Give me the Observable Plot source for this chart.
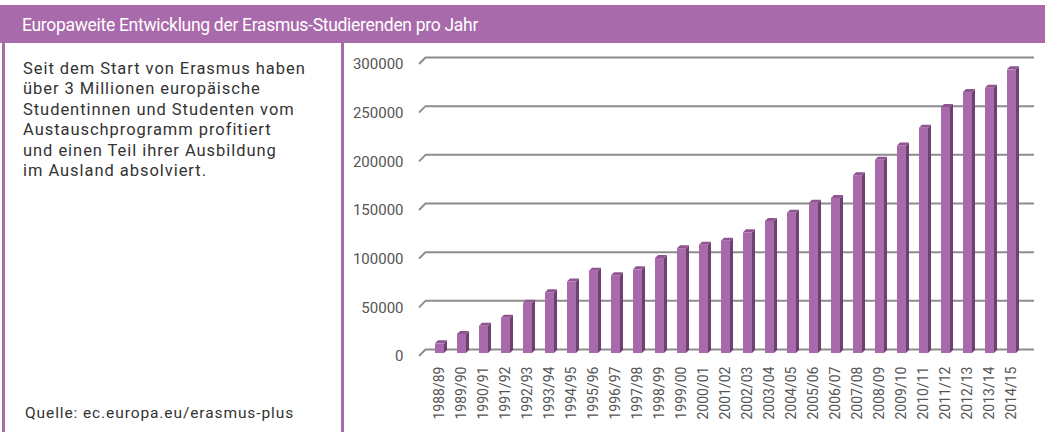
<!DOCTYPE html>
<html><head><meta charset="utf-8">
<script src="https://cdn.jsdelivr.net/npm/d3@7"></script>
<script src="https://cdn.jsdelivr.net/npm/@observablehq/plot@0.6"></script>
<style>
html,body{margin:0;padding:0;background:#fff;width:1045px;height:432px;overflow:hidden;font-family:Roboto, sans-serif;}
#header{position:absolute;left:0;top:5px;width:1045px;height:38px;background:#a96aab;color:#fff;font-size:17.5px;line-height:41px;padding-left:22px;box-sizing:border-box;white-space:nowrap;letter-spacing:-0.3px;}
#panel{position:absolute;left:2px;top:43px;width:342px;height:389px;border-left:3px solid #a96aab;border-right:3px solid #a96aab;box-sizing:border-box;}
#intro{position:absolute;left:23px;top:59px;font-size:16.5px;line-height:20.4px;color:#333;white-space:nowrap;letter-spacing:0.95px;}
#source{position:absolute;left:25px;top:404px;font-size:15.5px;color:#333;white-space:nowrap;letter-spacing:0.9px;}
#chart{position:absolute;left:345px;top:43px;}
</style></head>
<body>
<div id="header">Europaweite Entwicklung der Erasmus-Studierenden pro Jahr</div>
<div id="panel"></div>
<div id="intro">Seit dem Start von Erasmus haben<br>über 3 Millionen europäische<br>Studentinnen und Studenten vom<br>Austauschprogramm profitiert<br>und einen Teil ihrer Ausbildung<br>im Ausland absolviert.</div>
<div id="source">Quelle: ec.europa.eu/erasmus-plus</div>
<div id="chart"></div>
<script>
const years = ["1988/89","1989/90","1990/91","1991/92","1992/93","1993/94","1994/95","1995/96","1996/97","1997/98","1998/99","1999/00","2000/01","2001/02","2002/03","2003/04","2004/05","2005/06","2006/07","2007/08","2008/09","2009/10","2010/11","2011/12","2012/13","2013/14","2014/15"];
const students = [9900, 19500, 27900, 36300, 51700, 62400, 73400, 84600, 79900, 86000, 97600, 107700, 111100, 115400, 124000, 135600, 144000, 154400, 159300, 182700, 198500, 213300, 231400, 252800, 268100, 272500, 291400];
const yTicks = [0, 50000, 100000, 150000, 200000, 250000, 300000];

const data = years.map((year, i) => ({year, value: students[i]}));

const depth = 3, lift = 4;

function gridDiagonals(index, scales, values, dims) {
  const g = d3.create("svg:g");
  const x0 = dims.marginLeft;
  for (const v of yTicks) {
    const yy = scales.y(v);
    g.append("line").attr("x1", x0 - 7).attr("y1", yy + 7).attr("x2", x0).attr("y2", yy)
      .attr("stroke", "#8c8c8c").attr("stroke-width", 2);
  }
  return g.node();
}

function sides3d(index, scales, values, dims) {
  const g = d3.create("svg:g");
  const x = scales.x, y = scales.y;
  const bw = typeof x.bandwidth === "function" ? x.bandwidth() : x.bandwidth;
  const yb = y(0) + lift;
  for (const d of data) {
    const xl = x(d.year), xr = xl + bw, yt = y(d.value) + lift;
    g.append("polygon")
      .attr("points", `${xr},${yb} ${xr+depth},${yb-depth} ${xr+depth},${yt-depth} ${xr},${yt}`)
      .attr("fill", "#6e4170");
    g.append("polygon")
      .attr("points", `${xl},${yt} ${xl+depth},${yt-depth} ${xr+depth},${yt-depth} ${xr},${yt}`)
      .attr("fill", "#8f5591");
  }
  return g.node();
}

const chart = Plot.plot({
  width: 700, height: 389,
  marginTop: 14, marginBottom: 83, marginLeft: 81, marginRight: 11,
  style: {fontFamily: "Roboto, sans-serif", fontSize: "14px", color: "#555", background: "transparent"},
  x: {type: "band", domain: years, range: [76, 684], paddingInner: 0.6, paddingOuter: 0.3, label: null},
  y: {domain: [0, 300000], label: null},
  marks: [
    Plot.ruleY(yTicks, {stroke: "#8c8c8c", strokeWidth: 2}),
    gridDiagonals,
    Plot.axisY(yTicks, {tickSize: 0, tickPadding: 23, dy: 7, tickFormat: d => String(d), fill: "#555", fontSize: 15, label: null}),
    Plot.axisX({tickSize: 0, tickPadding: 17, tickRotate: -90, fill: "#555", fontSize: 14, label: null}),
    sides3d,
    Plot.barY(data, {x: "year", y: "value", fill: "#a96aab", dy: lift})
  ]
});
document.getElementById("chart").append(chart);
</script>
</body></html>
